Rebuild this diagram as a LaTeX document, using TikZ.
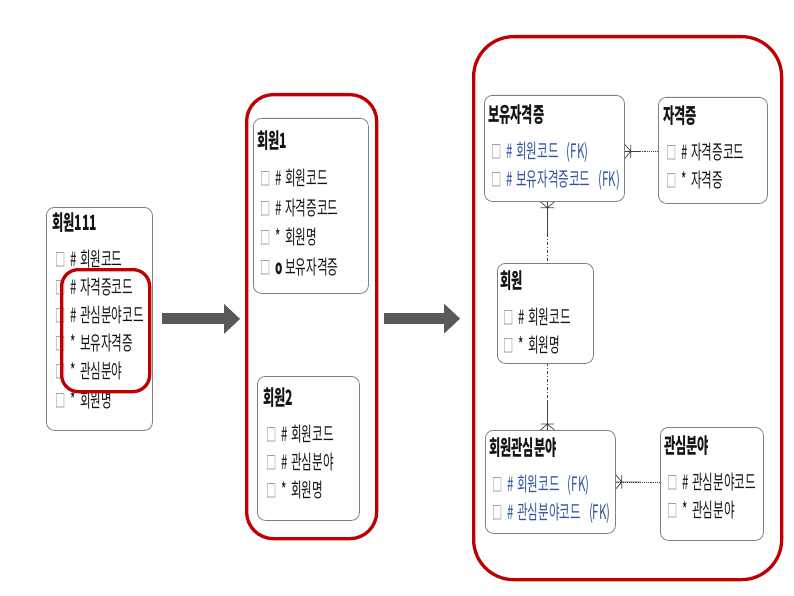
\documentclass[tikz,border=0pt]{standalone}
\usepackage{fontspec}
\setmainfont{Noto Sans CJK KR}[FakeStretch=0.58]
\usepackage{xcolor}
\usetikzlibrary{arrows.meta,calc,positioning}
\definecolor{frame}{RGB}{192,0,0}
\definecolor{boxline}{RGB}{128,128,128}
\definecolor{relline}{RGB}{64,64,64}
\definecolor{fkblue}{RGB}{47,84,160}
\definecolor{arrgray}{RGB}{89,89,89}
\definecolor{chkgray}{RGB}{115,115,115}
\definecolor{txt}{RGB}{20,20,20}
\newcommand{\ttl}[1]{{\bfseries\fontsize{18}{24}\selectfont #1}\\[6.8pt]}
\newcommand{\chk}{{\color{chkgray}\fontsize{15}{15}\selectfont □}}
\newcommand{\itm}[2]{\hspace*{2.5pt}\makebox[12.8pt][l]{\chk}\makebox[8.5pt][l]{#1}#2}
\newcommand{\fk}[1]{\hspace*{2.5pt}\makebox[12.8pt][l]{\chk}{\color{fkblue}\makebox[8.5pt][l]{\#}#1\hspace{7pt}(FK)}}

\begin{document}
\begin{tikzpicture}[x=0.3mm,y=-0.3mm,
  ebox/.style 2 args={draw=boxline,line width=0.7pt,rounded corners=2.4mm,anchor=north west,
             inner sep=0pt,minimum width=#1*0.3mm,minimum height=#2*0.3mm},
  etxt/.style={align=left,inner sep=0pt,text=txt,font=\fontsize{17}{#1}\selectfont},etxt/.default=24pt,
  grp/.style n args={3}{draw=frame,line width=2.8pt,rounded corners=#3,anchor=north west,
             inner sep=0pt,minimum width=#1*0.3mm,minimum height=#2*0.3mm},
  rel/.style={draw=relline,line width=0.6pt},
  dotline/.style={dash pattern=on 0.8pt off 0.8pt},
  dashdot/.style={dash pattern=on 3pt off 1.5pt on 0.8pt off 1.5pt},
  bigarrow/.style={draw=arrgray,line width=3.3mm,-{Triangle[length=4.8mm,width=9mm,line width=0pt]}},
  crow/.pic={\draw[rel] (0,2.1mm) -- (1.8mm,0) -- (0,-2.1mm) (1.8mm,2mm) -- (1.8mm,-2mm) (0,0) -- (#1,0);}]
  \useasboundingbox (0,0) rectangle (794,596);

  \node[ebox={106}{223}] (hw111) at (46,207) {};
  \node[etxt,below right=1.6mm and 1.8mm of hw111.north west] (hw111-t)
    {\ttl{회원111}\itm{\#}{회원코드}\\\itm{\#}{자격증코드}\\\itm{\#}{관심분야코드}\\
     \itm{*}{보유자격증}\\\itm{*}{관심분야}\\\itm{*}{회원명}};
  \node[grp={88}{122}{5mm}] (sel) at (60,268) {};

  \node[grp={130}{444}{8mm}] (grp2) at (245,93) {};
  \node[ebox={115}{175}] (hw1) at (253,118) {};
  \node[etxt=25.2pt,below right=3.7mm and 1.2mm of hw1.north west] (hw1-t)
    {\ttl{회원1}\itm{\#}{회원코드}\\\itm{\#}{자격증코드}\\\itm{*}{회원명}\\\itm{\textbf{o}}{보유자격증}};
  \node[ebox={102}{144}] (hw2) at (257,376) {};
  \node[etxt,below right=3.4mm and 1.8mm of hw2.north west] (hw2-t)
    {\ttl{회원2}\itm{\#}{회원코드}\\\itm{\#}{관심분야}\\\itm{*}{회원명}};

  \node[grp={308}{543}{12mm}] (grp3) at (472,35) {};
  \node[ebox={140}{106}] (byj) at (484,95) {};
  \node[etxt,below right=2.8mm and 1.2mm of byj.north west] (byj-t)
    {\ttl{보유자격증}\fk{회원코드}\\\fk{보유자격증코드}};
  \node[ebox={109}{106}] (jgj) at (658,97) {};
  \node[etxt,below right=2.5mm and 1.5mm of jgj.north west] (jgj-t)
    {\ttl{자격증}\itm{\#}{자격증코드}\\\itm{*}{자격증}};
  \node[ebox={96}{100}] (hw) at (497,263) {};
  \node[etxt,below right=2.2mm and 0.9mm of hw.north west] (hw-t)
    {\ttl{회원}\itm{\#}{회원코드}\\\itm{*}{회원명}};
  \node[ebox={130}{103}] (hgb) at (485,430) {};
  \node[etxt,below right=2.2mm and 1.2mm of hgb.north west] (hgb-t)
    {\ttl{회원관심분야}\fk{회원코드}\\\fk{관심분야코드}};
  \node[ebox={103}{113}] (gsb) at (660,427) {};
  \node[etxt,below right=2.5mm and 1.2mm of gsb.north west] (gsb-t)
    {\ttl{관심분야}\itm{\#}{관심분야코드}\\\itm{*}{관심분야}};

  \draw[bigarrow] ([xshift=2.7mm]hw111.east) -- ([xshift=-1.5mm]hw111.east -| grp2.west);
  \draw[bigarrow] ([xshift=1.8mm,yshift=-0.6mm]grp2.east) -- ([xshift=-3.6mm,yshift=-0.6mm]grp2.east -| grp3.west);

  \coordinate (c1) at ([yshift=-0.9mm]byj.east);
  \draw[rel,dotline] (c1) -- (c1 -| jgj.west);
  \pic at (c1) {crow=4.8mm};
  \coordinate (c2) at ([xshift=-2.1mm]byj.south);
  \draw[rel,dashdot] (c2) -- (c2 |- hw.north);
  \pic[rotate=-90] at (c2) {crow=9.6mm};
  \coordinate (c3) at ([xshift=-0.9mm]hgb.north);
  \draw[rel,dashdot] (c3) -- (c3 |- hw.south);
  \pic[rotate=90] at (c3) {crow=9mm};
  \coordinate (c4) at (hgb.east);
  \draw[rel,dotline] (c4) -- (c4 -| gsb.west);
  \pic at (c4) {crow=7.5mm};
\end{tikzpicture}
\end{document}
